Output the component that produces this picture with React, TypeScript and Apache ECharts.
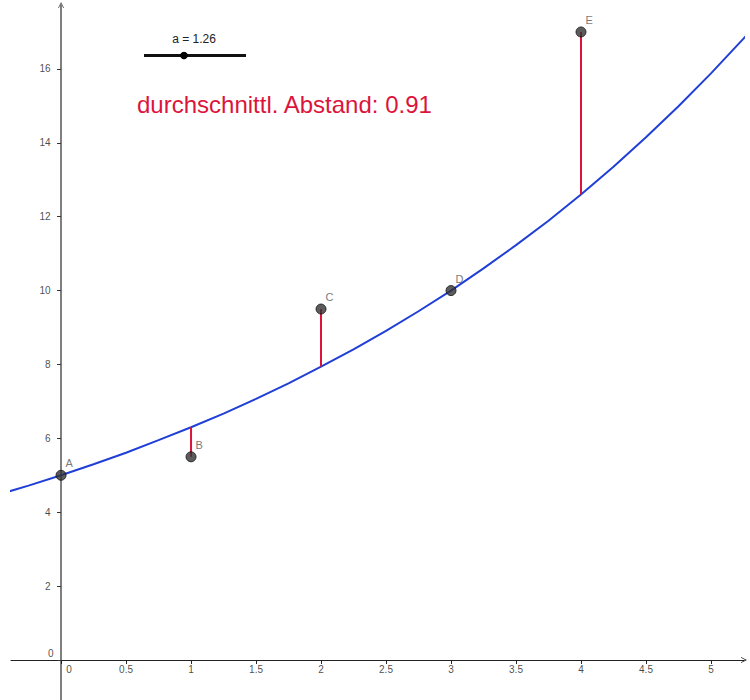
import React, { useEffect, useRef } from "react";
import * as echarts from "echarts";

// Data points
const pointNames = ["A", "B", "C", "D", "E"];
const pointX = [0, 1, 2, 3, 4];
const pointY = [5, 5.5, 9.5, 10, 17];

// Blue curve
const curveX = [-0.45, -0.25, 0, 0.25, 0.5, 0.75, 1, 1.25, 1.5, 1.75, 2, 2.25, 2.5, 2.75, 3, 3.25, 3.5, 3.75, 4, 4.25, 4.5, 4.75, 5, 5.25, 5.3];
const curveY = [4.51, 4.72, 5.0, 5.3, 5.61, 5.95, 6.3, 6.67, 7.07, 7.49, 7.94, 8.41, 8.91, 9.44, 10.0, 10.6, 11.23, 11.89, 12.6, 13.35, 14.15, 14.99, 15.88, 16.82, 17.02];

// Tick labels
const xTicks = [0, 0.5, 1, 1.5, 2, 2.5, 3, 3.5, 4, 4.5, 5];
const yTicks = [0, 2, 4, 6, 8, 10, 12, 14, 16];

const sliderLabel = "a = 1.26";
const distanceLabel = "durchschnittl. Abstand: 0.91";

const RED = "#dc143c";
const BLUE = "#1f3fd6";
const chevron = "path://M0,10L5,0L10,10L8.6,10L5,2.8L1.4,10Z";

export default function App() {
  const ref = useRef<HTMLDivElement>(null);

  useEffect(() => {
    if (!ref.current) return;
    const chart = echarts.init(ref.current, undefined, { renderer: "svg" });

    const curveAt = (x: number) => {
      const i = curveX.indexOf(x);
      return curveY[i];
    };

    const residualSeries = pointX.map((x, i) => ({
      type: "line",
      data: [
        [x, pointY[i]],
        [x, curveAt(x)],
      ],
      showSymbol: false,
      symbol: "none",
      lineStyle: { color: RED, width: 2 },
      z: 3,
      silent: true,
    }));

    const font = "'Liberation Sans', Arial, sans-serif";
    const tickText = { fontSize: 10, color: "#1a1a1a", fontFamily: font };

    chart.setOption({
      animation: false,
      backgroundColor: "#ffffff",
      grid: { left: 11, right: 6, top: 5, bottom: 0, containLabel: false, outerBoundsMode: "none" },
      xAxis: {
        type: "value",
        min: -0.385,
        max: 5.254,
        axisLine: {
          onZero: true,
          symbol: ["none", chevron],
          symbolSize: [8, 6],
          lineStyle: { color: "#222", width: 1.2 },
        },
        axisTick: {
          show: true,
          customValues: xTicks,
          length: 4,
          lineStyle: { color: "#222", width: 1 },
        },
        axisLabel: { show: false },
        splitLine: { show: false },
      },
      yAxis: {
        type: "value",
        min: -1.083,
        max: 17.73,
        axisLine: {
          onZero: true,
          symbol: ["none", chevron],
          symbolSize: [8, 6],
          lineStyle: { color: "#555", width: 1.5 },
        },
        axisTick: {
          show: true,
          customValues: yTicks,
          length: 4,
          lineStyle: { color: "#333", width: 1 },
        },
        axisLabel: { show: false },
        splitLine: { show: false },
      },
      series: [
        {
          type: "line",
          data: curveX.map((x, i) => [x, curveY[i]]),
          showSymbol: false,
          symbol: "none",
          smooth: false,
          lineStyle: { color: BLUE, width: 2 },
          z: 2,
          silent: true,
        },
        ...residualSeries,
        {
          type: "scatter",
          data: pointX.map((x, i) => ({ name: pointNames[i], value: [x, pointY[i]] })),
          symbolSize: 10,
          itemStyle: { color: "#333333", borderColor: "#111", borderWidth: 1 },
          label: {
            show: true,
            formatter: (p: any) => p.name,
            position: "right",
            distance: 0,
            offset: [-1, -12],
            color: "#555",
            fontSize: 11,
            fontFamily: font,
          },
          z: 5,
          silent: true,
        },
        // x-axis tick labels, placed on the zero line
        {
          type: "scatter",
          data: xTicks.map((v) => ({
            value: [v, 0],
            label: v === 0 ? { offset: [8, 0] } : {},
          })),
          symbolSize: 0,
          itemStyle: { color: "transparent" },
          label: {
            show: true,
            position: "bottom",
            distance: 5,
            formatter: (p: any) => String(p.value[0]),
            ...tickText,
          },
          z: 4,
          silent: true,
        },
        // y-axis tick labels, placed on the zero line
        {
          type: "scatter",
          data: yTicks.map((v) => ({
            value: [0, v],
            label: v === 0 ? { offset: [3, -6] } : {},
          })),
          symbolSize: 0,
          itemStyle: { color: "transparent" },
          label: {
            show: true,
            position: "left",
            distance: 10.5,
            formatter: (p: any) => String(p.value[1]),
            ...tickText,
          },
          z: 4,
          silent: true,
        },
      ],
      graphic: [
        {
          type: "line",
          shape: { x1: 144, y1: 55.5, x2: 246, y2: 55.5 },
          style: { stroke: "#111", lineWidth: 3 },
          z: 10,
        },
        {
          type: "circle",
          shape: { cx: 184, cy: 55.5, r: 3.8 },
          style: { fill: "#000" },
          z: 11,
        },
        {
          type: "text",
          x: 194,
          y: 39,
          style: {
            text: sliderLabel,
            fill: "#222",
            fontSize: 12,
            fontFamily: font,
            align: "center",
            verticalAlign: "middle",
          },
          z: 10,
        },
        {
          type: "text",
          x: 137,
          y: 104,
          style: {
            text: distanceLabel,
            fill: RED,
            fontSize: 24,
            fontFamily: font,
            align: "left",
            verticalAlign: "middle",
          },
          z: 10,
        },
      ],
    });

    return () => chart.dispose();
  }, []);

  return (
    <div
      ref={ref}
      style={{ position: "absolute", left: 0, top: 0, width: 750, height: 700 }}
    />
  );
}
